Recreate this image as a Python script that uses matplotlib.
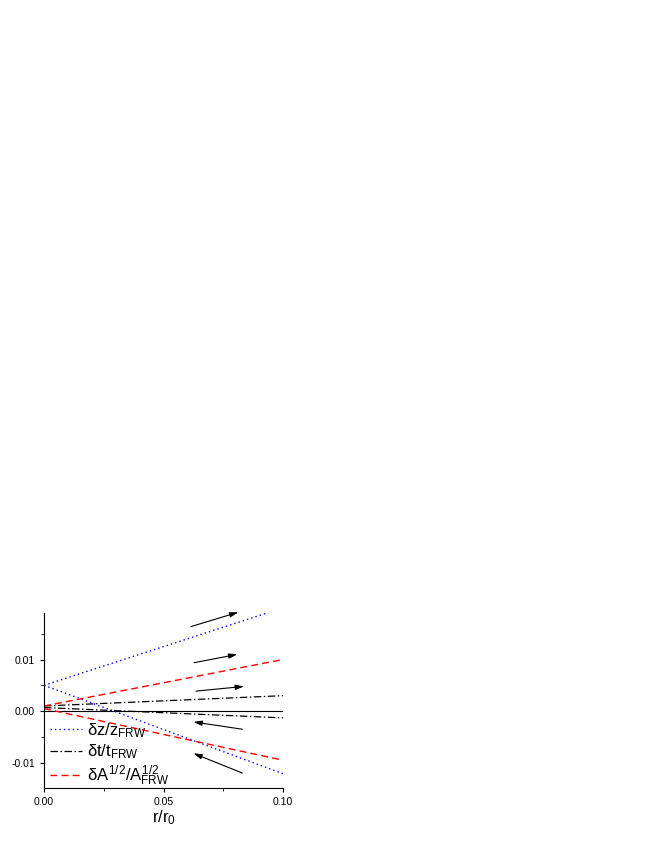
import matplotlib
matplotlib.use("Agg")
import matplotlib.pyplot as plt
import numpy as np

plt.rcParams['font.family'] = ['Liberation Sans', 'DejaVu Sans']
plt.rcParams['mathtext.fontset'] = 'custom'
plt.rcParams['mathtext.rm'] = 'Liberation Sans'
plt.rcParams['mathtext.it'] = 'Liberation Sans'
plt.rcParams['mathtext.bf'] = 'Liberation Sans:bold'

r = [0.0, 0.1]
dz_up = [0.005, 0.0200]
dz_lo = [0.005, -0.0121]
dt_up = [0.0010, 0.0030]
dt_lo = [0.0007, -0.0013]
dA_up = [0.0010, 0.0100]
dA_lo = [0.0005, -0.0095]

arrows = [  # (x_start, y_start, x_end, y_end)
    (0.0614, 0.01636, 0.0813, 0.01915),
    (0.0628, 0.00938, 0.0809, 0.01100),
    (0.0636, 0.00388, 0.0837, 0.00479),
    (0.0830, -0.00350, 0.0625, -0.00208),
    (0.0830, -0.01198, 0.0625, -0.00816),
]

xticks = [0.0, 0.05, 0.10]
xticklabels = ['0.00', '0.05', '0.10']
yticks = [-0.01, 0.0, 0.01]
yticklabels = ['-0.01', '0.00', '0.01']

fig = plt.figure(figsize=(6.54, 8.46), dpi=100)
ax = fig.add_axes([0.0673, 0.0690, 0.3654, 0.2064])

ax.axhline(0, color='black', lw=0.8)
l1, = ax.plot(r, dz_up, color='#0000ff', ls=(0, (1, 2.2)), lw=1.0, label=r'$\delta z/z_{\rm FRW}$')
ax.plot(r, dz_lo, color='#0000ff', ls=(0, (1, 2.2)), lw=1.0)
l2, = ax.plot(r, dt_up, color='black', ls=(0, (6, 2, 1.2, 2)), lw=0.9, label=r'$\delta t/t_{\rm FRW}$')
ax.plot(r, dt_lo, color='black', ls=(0, (6, 2, 1.2, 2)), lw=0.9)
l3, = ax.plot(r, dA_up, color='#ff0000', ls=(0, (5, 3)), lw=1.0, label=r'$\delta A^{1/2}/A^{1/2}_{\rm FRW}$')
ax.plot(r, dA_lo, color='#ff0000', ls=(0, (5, 3)), lw=1.0)

for xs, ys, xe, ye in arrows:
    ax.annotate('', xy=(xe, ye), xytext=(xs, ys), annotation_clip=False,
                arrowprops=dict(arrowstyle='-|>,head_length=0.5,head_width=0.15', color='black', lw=0.8,
                                shrinkA=0, shrinkB=0))

ax.set_xlim(0, 0.1)
ax.set_ylim(-0.0148, 0.019)
ax.set_xticks(xticks)
ax.set_xticklabels(xticklabels)
ax.set_yticks(yticks)
ax.set_yticklabels(yticklabels)
ax.set_xticks([0.025, 0.075], minor=True)
ax.set_yticks([-0.005, 0.005, 0.015], minor=True)
ax.tick_params(which='major', direction='out', length=3, width=0.8, labelsize=7.5)
ax.tick_params(which='minor', direction='out', length=2, width=0.6)
ax.spines['top'].set_visible(False)
ax.spines['right'].set_visible(False)
ax.set_xlabel(r'$r/r_0$', fontsize=12, labelpad=1.5)

leg = ax.legend(handles=[l1, l2, l3], loc='upper left', bbox_to_anchor=(0.025, 0.38),
                frameon=False, fontsize=12, handlelength=1.9, handletextpad=0.3,
                labelspacing=0.15, borderaxespad=0.0, borderpad=0.0)

fig.savefig('out.png', dpi=100)
